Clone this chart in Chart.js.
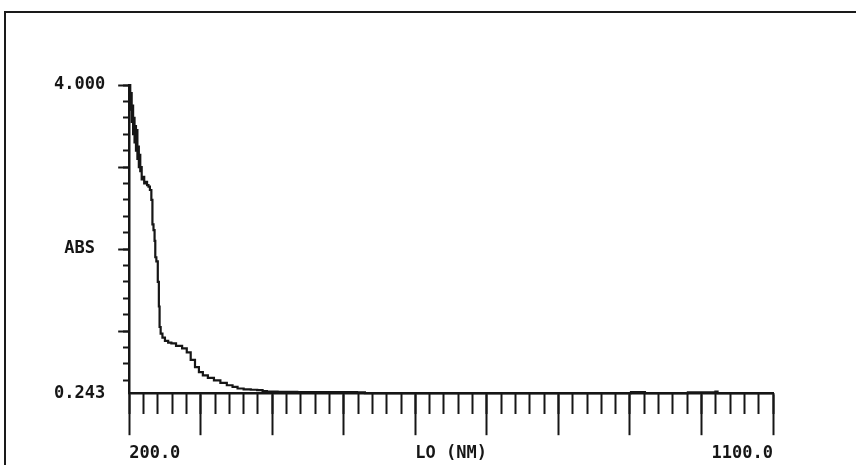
<!DOCTYPE html>
<html>
<head>
<meta charset="utf-8">
<script src="https://cdn.jsdelivr.net/npm/chart.js@4/dist/chart.umd.min.js"></script>
<style>
  html, body { margin: 0; padding: 0; background: #ffffff; }
  #frame { position: absolute; left: 4px; top: 11px; width: 900px; height: 500px;
           border-top: 2px solid #1a1a1a; border-left: 2px solid #1a1a1a; }
  #wrap { position: absolute; left: 0; top: 0; width: 856px; height: 465px; }
</style>
</head>
<body>
<div id="frame"></div>
<div id="wrap"><canvas id="c"></canvas></div>
<script>
// ---- data ----
const wavelengths = [200,201,202,203,204,205,206,207,208,209,210,211,212,213,214,215,216,217,218,220,222,224,226,228,230,232,233,235,236,237,239,241,242,243,245,248,252,257,261,270,278,283,289,295,300,306,314,323,332,341,348,355,365,375,383,390,395,420,450,480,510,527,532,600,700,800,900,903,920,922,980,982,1018,1021,1024,1100];
const absorbance  = [3.98,4.0,3.7,3.9,3.55,3.75,3.4,3.6,3.3,3.5,3.2,3.45,3.1,3.25,3.0,3.15,2.95,3.0,2.85,2.88,2.8,2.82,2.78,2.76,2.72,2.6,2.3,2.23,2.1,1.9,1.85,1.6,1.3,1.05,0.97,0.92,0.88,0.86,0.85,0.82,0.79,0.74,0.65,0.56,0.50,0.46,0.43,0.40,0.37,0.34,0.32,0.30,0.29,0.285,0.28,0.27,0.262,0.258,0.256,0.256,0.255,0.253,0.243,0.243,0.243,0.243,0.243,0.255,0.256,0.243,0.243,0.252,0.253,0.262,0.243,0.243];

const xMin = 200, xMax = 1100;
const yMin = 0.243, yMax = 4.0;
const xMajorTicks  = [200,300,400,500,600,700,800,900,1000,1100];
const xTickLabels  = ['200.0','','','','','','','','','1100.0'];
const xMinorStep   = 20;
const yMajorTicks  = [0.243,1,2,3,4];
const yTickLabels  = ['0.243','','ABS ','','4.000'];
const yMinorStep   = 0.2;
const xTitle = 'LO (NM)';

const INK = '#161616';
const FONT = { family: "'DejaVu Sans Mono', 'Liberation Mono', monospace", size: 17, weight: 'bold' };

const points = wavelengths.map((w, i) => ({ x: w, y: absorbance[i] }));

new Chart(document.getElementById('c'), {
  type: 'line',
  data: {
    datasets: [{
      data: points,
      borderColor: INK,
      borderWidth: 2.2,
      pointRadius: 0,
      stepped: 'middle',
      fill: false,
      clip: false
    }]
  },
  options: {
    responsive: true,
    maintainAspectRatio: false,
    animation: false,
    layout: { padding: { left: 41, top: 85, right: 83, bottom: 1 } },
    plugins: { legend: { display: false }, tooltip: { enabled: false } },
    scales: {
      x: {
        type: 'linear', position: 'bottom', min: xMin, max: xMax,
        afterBuildTicks: s => { s.ticks = xMajorTicks.map(v => ({ value: v })); },
        ticks: {
          color: INK, font: FONT, padding: 8, align: 'inner', maxRotation: 0, autoSkip: false,
          callback: (v, i) => xTickLabels[i]
        },
        grid: { drawOnChartArea: false, tickLength: 42, tickColor: INK, tickWidth: 2 },
        border: { color: INK, width: 2.5 },
        title: { display: true, text: xTitle, color: INK, font: FONT, padding: { top: -28, bottom: 0 } }
      },
      x2: {
        type: 'linear', position: { y: yMin }, min: xMin, max: xMax,
        ticks: { display: false, stepSize: xMinorStep, includeBounds: false },
        grid: { drawOnChartArea: false, tickLength: 21, tickColor: INK, tickWidth: 2 },
        border: { display: false }
      },
      y: {
        type: 'linear', position: 'left', min: yMin, max: yMax,
        afterBuildTicks: s => { s.ticks = yMajorTicks.map(v => ({ value: v })); },
        ticks: {
          color: INK, font: FONT, padding: 13, autoSkip: false,
          callback: (v, i) => yTickLabels[i]
        },
        grid: {
          drawOnChartArea: false, tickLength: 11, tickWidth: 2,
          tickColor: ctx => (ctx.tick && ctx.tick.value === yMin) ? 'rgba(0,0,0,0)' : INK
        },
        border: { color: INK, width: 2.5 }
      },
      y2: {
        type: 'linear', position: { x: xMin }, min: yMin, max: yMax,
        ticks: { display: false, stepSize: yMinorStep, includeBounds: false },
        grid: { drawOnChartArea: false, tickLength: 6, tickColor: INK, tickWidth: 2 },
        border: { display: false }
      }
    }
  }
});
</script>
</body>
</html>
